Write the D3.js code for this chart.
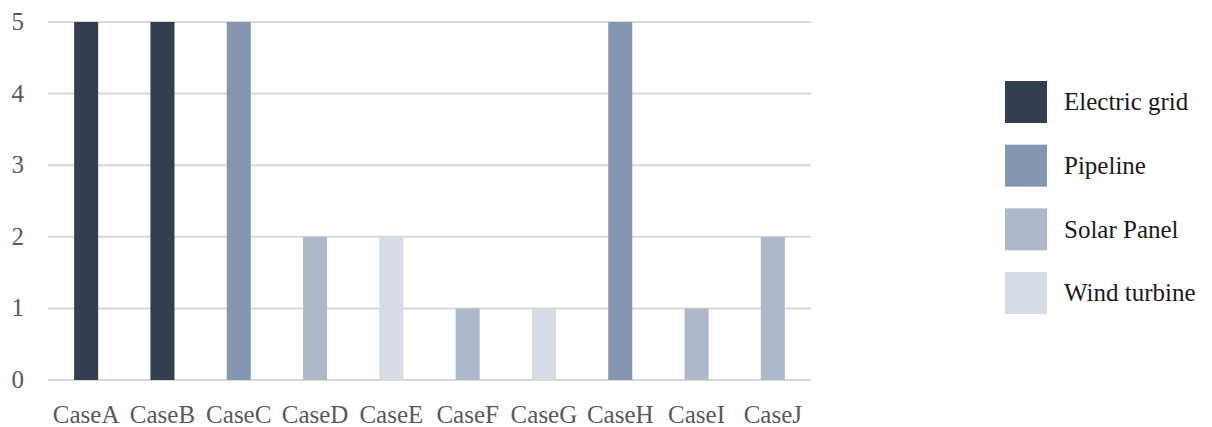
<!DOCTYPE html>
<html>
<head>
<meta charset="utf-8">
<script src="https://cdn.jsdelivr.net/npm/d3@7"></script>
<style>
  html, body { margin: 0; padding: 0; background: #fff; }
  svg { display: block; }
  text { font-family: "Palatino Linotype", "Book Antiqua", Palatino, "Liberation Serif", serif; }
</style>
</head>
<body>
<svg id="chart" width="1212" height="427"></svg>
<script>
// Cases along the x axis
const categories = ["CaseA", "CaseB", "CaseC", "CaseD", "CaseE", "CaseF", "CaseG", "CaseH", "CaseI", "CaseJ"];

// One series per infrastructure type (each case uses a single type)
const seriesNames = ["Electric grid", "Pipeline", "Solar Panel", "Wind turbine"];
const electricGrid = [5, 5, 0, 0, 0, 0, 0, 0, 0, 0];
const pipeline     = [0, 0, 5, 0, 0, 0, 0, 5, 0, 0];
const solarPanel   = [0, 0, 0, 2, 0, 1, 0, 0, 1, 2];
const windTurbine  = [0, 0, 0, 0, 2, 0, 1, 0, 0, 0];

const yTicks = [0, 1, 2, 3, 4, 5];
const seriesColors = ["#333f50", "#8497b0", "#adb9ca", "#d6dce5"];

const rows = categories.map((c, i) => ({
  case: c,
  "Electric grid": electricGrid[i],
  "Pipeline": pipeline[i],
  "Solar Panel": solarPanel[i],
  "Wind turbine": windTurbine[i]
}));

const svg = d3.select("#chart");
const plot = { left: 48, right: 811, top: 22, bottom: 380 };

const x = d3.scaleBand()
  .domain(categories)
  .range([plot.left, plot.right])
  .paddingInner(0.685)
  .paddingOuter(0.3425);

const y = d3.scaleLinear()
  .domain([0, 5])
  .range([plot.bottom, plot.top]);

const color = d3.scaleOrdinal().domain(seriesNames).range(seriesColors);

// Horizontal gridlines
svg.append("g")
  .selectAll("line")
  .data(yTicks)
  .join("line")
  .attr("x1", plot.left)
  .attr("x2", plot.right)
  .attr("y1", d => y(d))
  .attr("y2", d => y(d))
  .attr("stroke", "#d9d9d9")
  .attr("stroke-width", 2);

// Y axis labels
const yAxis = d3.axisLeft(y).tickValues(yTicks).tickSize(0).tickPadding(0).tickFormat(d3.format("d"));
svg.append("g")
  .attr("transform", `translate(24,0)`)
  .call(yAxis)
  .call(g => g.select(".domain").remove())
  .call(g => g.selectAll("text")
    .attr("fill", "#595959")
    .attr("font-size", 25)
    .attr("dy", "0.3em")
    .style("font-family", null));

// Stacked bars
const stack = d3.stack().keys(seriesNames);
const layers = stack(rows);

svg.append("g")
  .selectAll("g")
  .data(layers)
  .join("g")
  .attr("fill", d => color(d.key))
  .selectAll("rect")
  .data(d => d.filter(p => p[1] - p[0] > 0))
  .join("rect")
  .attr("x", d => x(d.data.case))
  .attr("width", x.bandwidth())
  .attr("y", d => y(d[1]))
  .attr("height", d => y(d[0]) - y(d[1]));

// X axis labels
const xAxis = d3.axisBottom(x).tickSize(0).tickPadding(0);
svg.append("g")
  .attr("transform", `translate(0,423)`)
  .call(xAxis)
  .call(g => g.select(".domain").remove())
  .call(g => g.selectAll("text")
    .attr("fill", "#595959")
    .attr("font-size", 25)
    .attr("y", 0)
    .attr("dy", 0)
    .style("font-family", null));

// Legend
const legendY = d3.scalePoint().domain(seriesNames).range([102, 293]);
const legend = svg.append("g")
  .selectAll("g")
  .data(seriesNames)
  .join("g")
  .attr("transform", d => `translate(1005,${legendY(d)})`);

legend.append("rect")
  .attr("x", 0)
  .attr("y", -21)
  .attr("width", 42)
  .attr("height", 42)
  .attr("fill", d => color(d));

legend.append("text")
  .attr("x", 59)
  .attr("y", 0)
  .attr("dy", "0.33em")
  .attr("font-size", 25)
  .attr("fill", "#1a1a1a")
  .text(d => d);
</script>
</body>
</html>
